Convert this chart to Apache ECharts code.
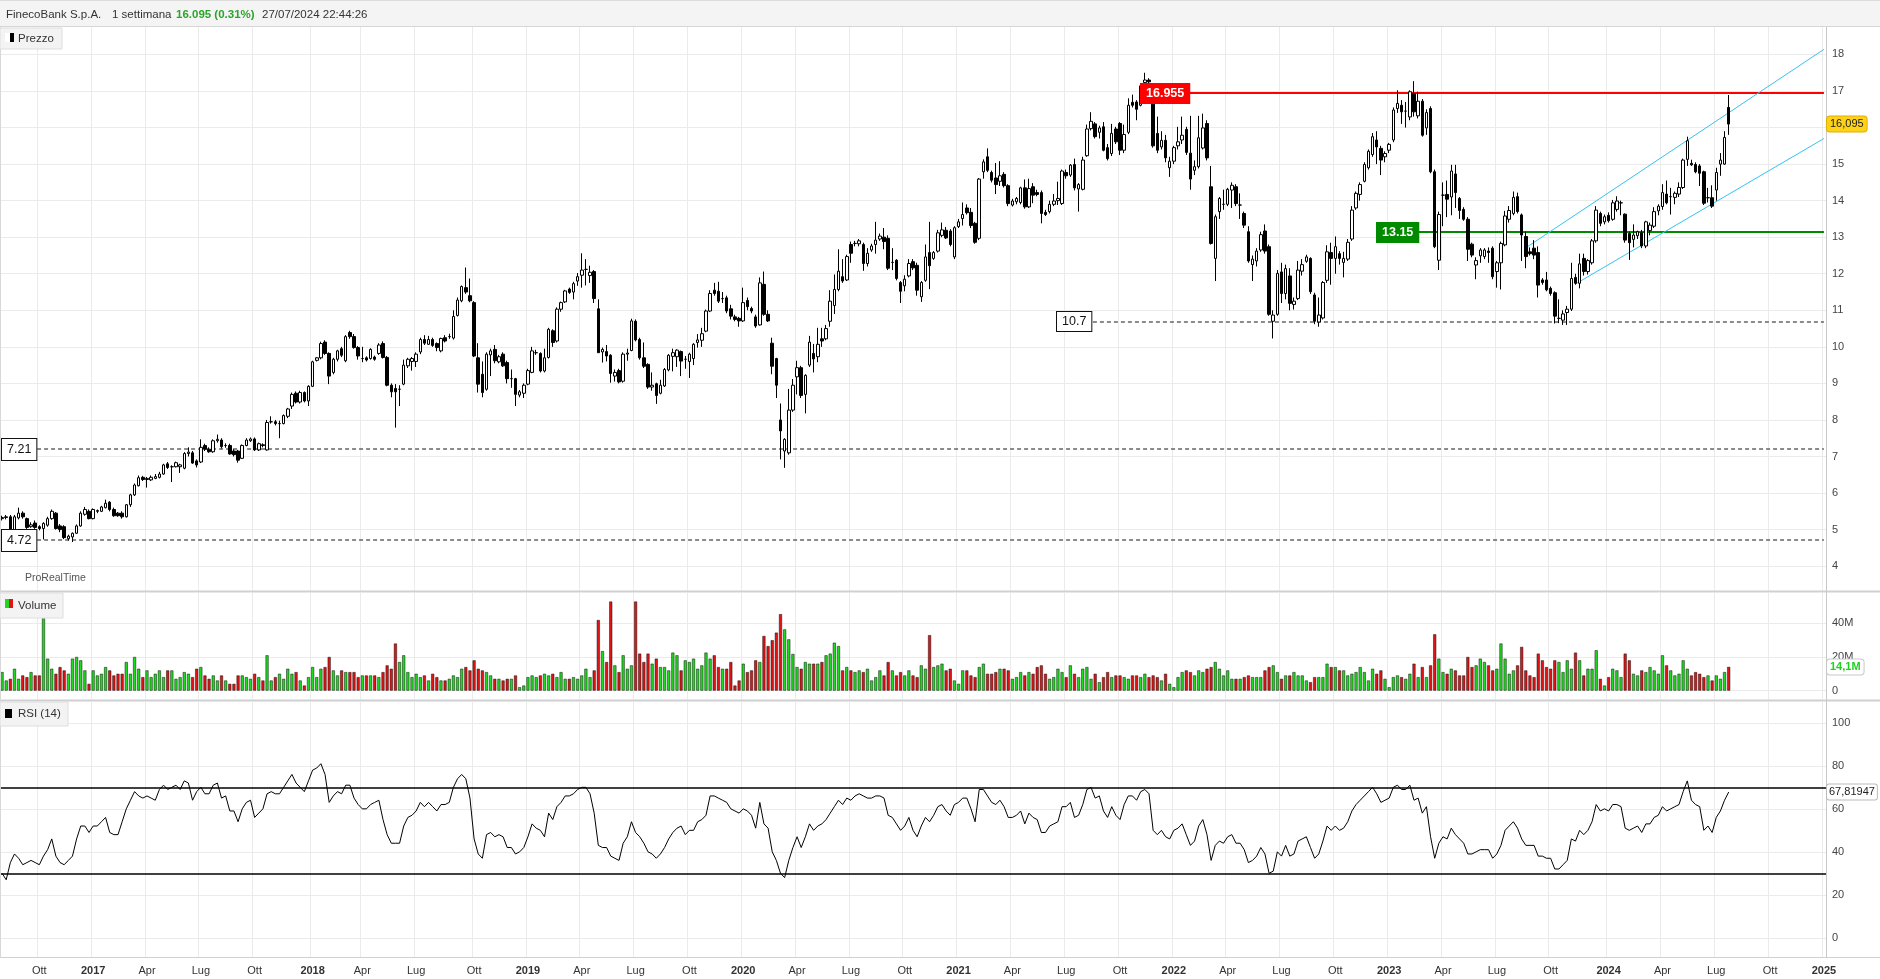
<!DOCTYPE html>
<html><head><meta charset="utf-8">
<script src="https://cdn.jsdelivr.net/npm/echarts@6/dist/echarts.min.js"></script>
<style>html,body{margin:0;padding:0;background:#fff;}#c{width:1880px;height:979px;}</style>
</head><body><div id="c"></div>
<script>
// ---------- DATA (weekly, first week ending 2016-07-29) ----------
const firstWeek = '2016-07-29';
const opens = [
5.30,5.33,5.35,5.00,5.32,5.45,5.30,5.08,5.18,5.08,5.03,5.12,5.30,5.45,5.10,5.08,4.75,4.80,4.90,5.10,
5.42,5.50,5.30,5.50,5.50,5.60,5.75,5.55,5.45,5.45,5.35,5.68,5.95,6.20,6.43,6.37,6.36,6.40,6.43,6.52,
6.80,6.72,6.72,6.72,6.68,7.08,7.10,6.88,6.85,7.30,7.20,7.13,7.43,7.45,7.30,7.30,7.15,7.15,6.95,7.30,
7.43,7.48,7.18,7.32,7.18,7.95,7.95,7.90,7.90,8.10,
8.38,8.73,8.49,8.75,8.52,8.92,9.63,9.70,10.13,9.82,9.30,9.66,9.95,9.62,10.39,10.28,9.98,9.68,9.70,9.68,
9.72,9.82,10.09,9.71,8.95,8.86,8.84,8.98,9.48,9.60,9.60,9.86,10.20,10.07,10.20,10.09,9.89,10.25,10.28,10.24,
10.86,11.26,11.62,11.40,11.21,9.70,9.25,8.84,9.78,9.93,9.59,9.80,9.57,9.13,9.13,8.68,8.73,8.98,9.30,9.84,
9.82,9.34,9.71,10.44,10.16,11.03,11.23,11.58,11.50,11.80,11.96,12.12,11.95,
12.06,11.04,9.86,9.87,9.77,9.20,9.35,9.06,9.80,9.90,10.70,10.20,9.70,9.52,8.90,8.99,8.73,8.93,9.37,9.74,
9.73,9.87,9.66,9.60,9.68,10.12,10.18,10.43,10.98,11.55,11.52,11.32,11.34,11.04,10.82,10.78,10.71,11.27,11.05,10.82,
10.60,11.71,10.89,10.10,9.68,8.00,7.15,7.10,8.27,9.18,9.43,8.70,9.50,9.82,9.73,10.22,10.22,10.70,11.13,11.57,
11.92,11.83,12.80,12.83,12.82,12.80,12.28,12.65,
12.80,12.95,13.00,12.97,12.31,12.37,11.76,11.67,11.94,12.33,12.23,11.37,11.82,12.58,12.42,12.62,13.05,13.19,13.17,12.46,
13.29,13.51,13.80,13.68,13.38,12.97,14.79,15.20,14.77,14.62,14.53,14.72,14.41,13.88,13.97,13.95,14.35,13.83,14.38,14.22,
14.22,13.68,13.70,13.90,14.00,13.92,14.77,14.70,14.99,14.32,14.31,15.23,15.97,16.10,15.87,16.02,15.45,15.29,15.96,16.11,
15.38,15.87,16.69,16.70,16.61,17.23,17.30,16.66,15.84,15.47,15.65,14.90,
15.08,15.50,15.66,15.95,15.30,14.83,14.93,15.44,16.11,14.38,12.42,13.70,13.90,13.90,14.29,14.38,13.88,13.65,13.15,12.25,
12.35,12.65,13.17,12.74,10.70,10.89,12.05,11.46,11.94,11.16,11.32,12.07,12.34,12.42,11.42,10.68,10.79,11.82,12.58,12.42,
12.55,12.31,12.40,12.95,13.80,14.17,14.53,14.90,15.26,15.66,15.43,15.20,15.38,15.66,16.52,16.61,16.45,16.29,16.93,16.32,
16.72,15.99,16.52,14.79,12.37,14.15,14.17,14.10,14.73,14.06,
13.76,13.49,12.81,12.24,12.49,12.47,12.62,12.70,12.06,12.30,12.79,13.49,13.65,14.11,13.61,13.02,12.60,12.70,12.58,11.83,
11.83,11.60,11.48,10.78,10.73,10.94,11.03,11.90,11.74,12.42,12.06,12.30,12.90,13.65,13.42,13.60,13.49,13.76,13.94,13.63,
13.10,12.94,13.04,13.12,12.76,13.18,13.30,13.72,13.84,14.18,14.11,14.09,14.18,14.36,15.13,15.02,14.99,14.95,14.79,14.08,
14.08,14.29,15.00,15.00,16.55];
const closes = [
5.33,5.35,4.99,5.35,5.45,5.35,5.06,5.13,5.06,5.03,5.17,5.30,5.50,5.03,5.00,4.78,4.82,4.90,5.10,5.45,
5.55,5.30,5.55,5.52,5.62,5.72,5.55,5.38,5.38,5.35,5.68,5.95,6.22,6.42,6.37,6.40,6.43,6.45,6.52,6.77,
6.70,6.72,6.83,6.77,7.08,7.12,6.82,6.77,7.25,7.20,7.13,7.43,7.47,7.27,7.30,7.07,7.05,6.90,7.30,7.45,
7.48,7.18,7.35,7.30,7.93,7.95,7.90,7.90,8.12,8.30,
8.70,8.49,8.75,8.52,8.92,9.59,9.70,10.09,9.82,9.20,9.66,9.89,9.77,10.28,10.28,9.98,9.75,9.68,9.64,9.93,
9.66,10.05,9.71,8.95,8.77,8.77,8.84,9.50,9.66,9.68,9.80,10.20,10.10,10.20,10.04,9.98,10.23,10.16,10.28,10.83,
11.28,11.65,11.50,11.26,9.75,8.98,8.75,9.80,9.89,9.62,9.73,9.48,9.13,9.13,8.70,8.77,8.95,9.35,9.89,9.84,
9.34,9.70,10.48,10.12,11.03,11.21,11.53,11.49,11.73,11.92,12.10,12.12,12.04,
11.32,9.84,9.93,9.75,9.27,9.30,9.04,9.80,9.83,10.71,10.19,9.70,9.47,8.90,8.95,8.67,8.95,9.38,9.77,9.84,
9.91,9.61,9.66,9.80,10.07,10.19,10.36,10.98,11.46,11.46,11.25,11.32,10.98,10.84,10.75,10.71,11.21,11.10,10.98,10.57,
11.75,10.89,10.71,9.47,8.95,7.70,7.47,8.27,8.95,9.43,8.67,9.22,10.13,9.67,10.07,10.16,10.50,11.25,11.57,12.07,
11.80,12.47,12.56,12.83,12.90,12.28,12.56,12.76,
12.92,13.03,12.88,12.15,12.31,11.87,11.52,11.85,12.28,12.16,11.55,11.76,12.46,12.22,12.58,13.12,13.20,12.98,12.80,13.26,
13.42,13.62,13.67,13.32,12.86,14.59,15.06,14.83,14.56,14.44,14.68,14.41,13.92,13.99,14.06,14.35,13.83,14.33,14.15,14.17,
13.65,13.62,13.90,13.99,14.06,14.81,14.68,14.97,14.35,14.44,15.11,15.96,16.17,15.75,15.99,15.38,15.15,15.84,15.61,15.38,
15.81,16.61,16.61,16.50,17.14,17.30,17.25,15.50,15.38,15.65,15.17,15.08,
15.45,15.61,15.79,15.32,14.59,14.93,15.72,15.99,15.17,12.83,13.56,14.06,13.90,14.31,14.42,13.92,13.88,13.33,12.35,12.40,
12.62,13.07,12.62,10.89,10.87,12.01,11.46,12.14,11.19,11.25,12.10,12.25,12.46,11.51,10.70,10.87,11.76,12.60,12.42,12.74,
12.42,12.42,12.86,13.74,14.20,14.44,14.99,15.35,15.75,15.47,15.11,15.29,15.54,16.48,16.66,16.43,16.45,16.98,16.43,16.72,
15.79,16.41,14.79,12.74,13.62,14.15,14.04,14.81,14.22,13.73,
13.49,12.67,12.51,12.36,12.65,12.65,12.58,11.92,12.30,12.83,13.58,13.73,14.09,13.70,13.06,12.47,12.55,12.51,11.69,11.76,
11.56,11.46,10.84,10.78,10.90,11.03,11.87,11.74,12.27,12.06,12.36,12.90,13.74,13.38,13.56,13.45,13.94,13.99,13.94,12.92,
12.85,13.06,13.15,12.76,13.42,13.33,13.70,13.85,14.22,13.94,14.11,14.20,14.36,15.11,15.64,14.98,14.79,14.75,13.93,14.08,
13.85,14.77,15.11,15.73,16.095];
const lows = [
5.25,5.28,4.95,4.98,5.28,5.30,5.02,5.05,5.02,4.98,4.73,5.08,5.27,5.00,4.93,4.74,4.70,4.66,4.88,5.08,
5.38,5.28,5.28,5.45,5.48,5.58,5.50,5.35,5.35,5.30,5.33,5.62,5.92,6.18,6.33,6.15,6.33,6.38,6.40,6.50,
6.66,6.30,6.70,6.55,6.65,7.00,6.80,6.70,6.82,7.15,7.10,7.10,7.38,7.22,7.24,7.05,7.00,6.83,6.93,7.28,
7.40,7.15,7.15,7.25,7.16,7.90,7.85,7.50,7.88,8.05,
8.30,8.45,8.45,8.48,8.38,8.90,9.60,9.66,9.78,8.98,9.25,9.60,9.72,9.58,10.22,9.95,9.65,9.58,9.60,9.65,
9.62,9.78,9.68,8.92,8.62,7.79,8.38,8.95,9.42,9.35,9.45,9.80,10.05,10.05,10.00,9.88,9.85,10.12,10.22,10.20,
10.83,11.22,11.45,11.22,9.72,8.75,8.62,8.80,9.20,9.55,9.55,9.45,9.00,8.88,8.38,8.62,8.60,8.95,9.28,9.78,
9.30,9.30,9.68,10.00,10.12,10.96,11.20,11.45,11.30,11.67,11.62,11.68,11.75,
11.20,9.84,9.57,9.60,9.02,9.05,9.00,9.02,9.62,9.88,10.15,9.65,9.42,8.85,8.80,8.44,8.70,8.90,9.33,9.33,
9.45,9.20,9.40,9.15,9.50,9.98,10.00,10.40,10.95,11.40,11.20,11.20,10.92,10.75,10.70,10.55,10.68,11.00,10.92,10.52,
10.58,10.85,10.68,9.25,8.60,6.92,6.69,7.05,8.22,8.70,8.60,8.18,9.45,9.30,9.58,10.00,10.18,10.55,10.90,11.52,
11.75,11.80,12.30,12.75,12.75,12.08,12.20,12.60,
12.55,12.90,12.67,12.10,12.10,11.82,11.20,11.52,11.90,12.10,11.40,11.23,11.78,11.58,12.38,12.58,13.00,12.95,12.75,12.40,
13.25,13.32,13.62,13.25,12.82,12.92,14.60,14.78,14.50,14.18,14.40,14.36,13.85,13.84,13.90,13.90,13.78,13.80,13.93,14.12,
13.38,13.58,13.65,13.85,13.88,13.88,14.60,14.65,14.28,13.70,14.28,15.20,15.92,15.70,15.70,15.35,15.10,15.22,15.55,15.25,
15.30,15.82,16.55,16.20,16.58,17.15,17.05,15.45,15.30,15.40,15.05,14.65,
15.00,15.40,15.55,15.25,14.30,14.70,14.88,15.40,15.10,12.80,11.80,13.50,13.75,13.85,13.80,13.85,13.50,13.25,12.30,11.80,
12.20,12.60,12.55,10.85,10.23,10.85,11.20,11.30,11.00,11.02,11.28,11.95,12.30,11.45,10.62,10.55,10.75,11.75,11.70,12.00,
12.25,11.90,12.35,12.90,13.75,14.00,14.50,14.85,15.20,15.00,14.70,15.05,15.30,15.60,16.40,16.10,16.00,16.20,16.30,16.25,
15.75,15.80,14.75,12.70,12.10,13.30,13.55,13.60,13.80,13.50,
13.45,12.35,12.45,11.85,12.30,12.40,12.30,11.85,11.62,11.57,12.75,13.40,13.60,13.65,12.35,12.15,12.50,12.40,11.35,11.70,
11.52,11.40,10.64,10.65,10.60,10.60,10.98,11.70,11.60,11.95,11.98,12.25,12.85,13.30,13.35,13.40,13.45,13.70,13.60,12.85,
12.38,12.72,12.95,12.70,12.70,13.05,13.25,13.60,13.75,13.90,13.62,13.90,14.10,14.32,14.95,14.95,14.75,14.40,13.88,13.95,
13.80,14.00,14.68,14.98,15.80];
const highs = [
5.38,5.40,5.40,5.40,5.60,5.50,5.33,5.20,5.25,5.12,5.20,5.35,5.55,5.48,5.15,5.12,4.86,4.92,5.14,5.50,
5.62,5.55,5.58,5.55,5.65,5.82,5.78,5.60,5.48,5.50,5.70,5.98,6.26,6.48,6.47,6.44,6.48,6.52,6.58,6.80,
6.85,6.76,6.86,6.80,7.12,7.25,7.15,6.92,7.47,7.35,7.25,7.47,7.60,7.50,7.36,7.35,7.20,7.18,7.33,7.50,
7.52,7.52,7.38,7.36,8.00,8.10,8.00,7.98,8.15,8.33,
8.75,8.78,8.80,8.78,8.95,9.62,9.72,10.14,10.18,9.85,9.70,9.92,10.00,10.32,10.44,10.35,10.02,10.00,9.74,9.96,
9.76,10.10,10.15,9.75,9.00,8.98,8.95,9.65,9.70,9.72,9.85,10.25,10.32,10.30,10.25,10.12,10.25,10.32,10.36,11.00,
11.35,11.68,12.17,11.87,11.25,10.10,9.60,9.85,9.95,10.05,9.78,9.85,9.62,9.38,9.15,8.82,9.00,9.40,10.00,9.92,
9.85,9.95,10.52,10.48,11.08,11.24,11.56,11.62,11.78,12.02,12.56,12.40,12.22,
12.10,11.30,9.98,10.05,9.80,9.38,9.40,9.85,9.95,10.77,10.75,10.25,10.12,9.55,9.30,9.02,9.10,9.42,9.80,9.95,
9.93,9.90,9.75,9.84,10.10,10.35,10.52,11.02,11.55,11.75,11.78,11.50,11.40,11.15,10.88,10.82,11.62,11.35,11.10,10.88,
11.90,12.06,11.00,10.25,9.70,8.45,7.50,8.85,9.12,9.62,9.48,9.25,10.30,10.08,10.52,10.52,10.60,11.55,11.98,12.67,
12.40,12.52,12.88,12.90,12.95,12.85,12.70,12.82,
13.42,13.10,13.25,13.05,12.70,12.40,11.80,11.96,12.40,12.40,12.30,11.80,12.80,13.42,12.62,13.20,13.40,13.28,13.22,13.30,
13.50,13.95,13.90,13.80,13.42,14.62,15.13,15.43,14.82,15.03,15.08,14.78,14.45,14.05,14.10,14.38,14.58,14.60,14.48,14.30,
14.28,13.75,14.00,14.18,14.52,14.85,14.85,15.00,15.15,14.48,15.20,16.08,16.42,16.15,16.05,16.15,15.55,16.10,16.02,16.15,
16.08,16.80,16.90,16.75,17.20,17.50,17.35,16.72,16.30,15.90,15.80,15.20,
15.50,16.02,16.30,16.02,16.32,15.10,16.32,16.38,16.20,14.95,13.62,14.10,14.30,14.35,14.50,14.45,14.20,13.70,13.30,12.50,
12.70,13.15,13.35,12.80,11.00,12.10,12.30,12.25,12.15,11.35,12.35,12.40,12.52,12.45,11.48,11.35,11.80,12.78,12.85,13.02,
12.62,12.60,12.95,13.85,14.25,14.50,15.05,15.40,15.85,15.90,15.50,15.35,15.58,16.55,17.02,16.75,16.70,17.02,17.27,16.98,
16.78,16.50,16.58,14.85,13.70,14.50,14.55,14.98,14.98,14.10,
13.82,13.55,12.85,12.45,12.70,12.70,12.72,12.75,12.35,12.88,13.72,13.85,14.25,14.22,13.65,13.15,12.72,12.92,12.75,11.88,
12.05,11.65,11.52,11.30,11.00,11.12,12.30,12.00,12.55,12.55,12.40,12.95,13.85,13.70,13.62,13.68,14.02,14.12,14.00,13.65,
13.15,13.35,13.18,13.20,13.45,13.40,13.82,13.90,14.45,14.55,14.35,14.25,14.50,15.15,15.75,15.12,15.05,15.00,14.82,14.35,
14.42,14.90,15.30,15.90,16.89];
// volume, millions of shares
const volumes = [
11,6,7,13,7,9,8,11,9,9,43,19,13,10,14,12,10,19,20,18,12,4,12,9,10,14,12,9,10,10,
17,10,20,13,8,12,8,10,12,8,12,12,7,8,11,10,8,13,14,9,7,9,6,9,6,4,4,9,9,8,
7,10,8,6,21,6,8,10,7,13,10,11,6,3,8,14,8,13,14,20,12,9,12,11,11,11,8,9,9,9,
9,8,11,15,13,28,17,21,11,8,10,8,9,6,10,8,6,6,7,9,8,13,14,12,18,13,12,11,9,7,
7,6,7,7,9,2,3,8,9,8,9,10,9,10,8,11,7,7,8,7,9,13,8,12,42,23.5,17,53,15,11,
21,13,15,53,22,17,22,16,19,14,14,12,22.6,21,12,18,17,19,13,15,22.6,19,21,14,13,13,17,3,6,16,
11,12,18,17,32.5,26.5,30,34.5,45.5,36.4,30.5,21.8,14,13,17,16,16,16,17,21,22,28.5,26.5,12,14,12,11,12,11,13,
6,8,12,9,17,12,9,11,9,12,9,8,15,13,33,14,15,16,12,13,6,4,12,12,9,8,14,16,10,10,
11,13,13,12,7,8,11,9,11,10,14,15,10,7,8,13,11,8,15,10,8,13,14,7,10,5,8,11,8,9,
9,8,7,9,9,8,10,8,9,8,6,10,4,2,8,11,12,11,9,12,11,13,14,17,13,9,12,7,7,7,
8,9,8,8,8,12,14,15,11,7,9,9,11,9,9,6,5,8,8,8,16,14,14,12,12,9,10,11,14,11,
6,13,10,12,7,2,8,9,8,7,10,16,8,14,8,15,33.5,19,11,10,13,12,9,9,20,14,15,19,17,15,
12,13,28,19,10,12,15,26,12,9,8,22,18,14,13,18,17,11,18,13,22.6,18,9,13,13,24,7,3,8,13,
12,8,22,18,10,9,12,11,14,12,10,21,15,12,9,10,18,13,9,11,10,8,9,6,9,7,11,14.1];
const rsi = [
30,27,35,39,37,34,35,36,35,34,38,41,46,38,35,34,36,38,46,52,52,49,52,52,54,56,49,48,48,54,
60,64,68,66,65,66,65,64,69,71,69,70,71,69,73,72,64,68,70,67,67,71,72,65,66,59,59,54,60,63,
64,56,58,60,67,68,67,67,70,73,76,72,70,68,73,78,79,81,76,63,66,68,67,71,71,65,62,60,60,62,
63,64,55,48,44,44,44,52,56,57,59,63,61,63,61,59,62,62,63,70,74,76,74,65,46,39,37,48,49,47,
48,47,42,42,39,40,42,47,53,51,50,47,58,55,61,63,66,66,67,69,70,70,67,58,43,42,42,38,37,36,
44,47,54,49,47,44,40,39,37,39,42,46,49,51,52,48,50,50,54,55,57,66,66,65,64,63,60,59,58,60,
59,57,51,63,53,51,40,36,30,28,36,42,47,42,47,53,50,52,53,55,58,61,64,62,65,64,66,67,66,65,
65,66,66,65,57,56,53,50,52,56,50,47,52,56,54,57,61,62,59,57,62,63,65,65,60,54,69,69,66,63,
62,64,61,56,56,57,59,53,58,56,55,49,49,52,53,54,61,61,63,56,57,62,69,70,65,66,59,56,61,57,
55,62,66,66,64,68,69,67,50,48,50,47,46,50,51,53,48,43,45,52,55,48,36,43,45,44,47,48,44,44,
41,35,36,38,42,39,30,31,40,38,43,38,39,45,46,47,42,37,39,45,52,50,52,50,51,54,59,62,64,66,
68,70,67,63,64,65,70,71,69,69,71,64,65,58,61,47,37,44,47,46,51,48,46,44,39,39,40,41,41,41,
37,39,43,50,52,54,51,46,43,43,43,38,38,37,37,32,32,34,36,46,45,50,48,50,54,62,59,60,59,62,
62,61,51,50,51,52,49,53,53,56,57,61,59,60,61,62,68,73,64,62,61,50,52,49,56,59,64,67.81947];
// horizontal levels drawn on the price panel (price, first week index)
const levelPrices = [16.955, 13.15, 10.7, 7.21, 4.72];
const levelStartWeek = [275, 332, 255, 0, 0];
// channel lines: [startWeek, startPrice, endWeek, endPrice]
const channelLines = [[368, 12.71, 440, 18.14], [380, 11.72, 440, 15.70]];
const priceTicks = [4,5,6,7,8,9,10,11,12,13,14,15,16,17,18];
const volumeTicks = [0,20,40];
const rsiTicks = [0,20,40,60,80,100];
const rsiBands = [70, 30];
const headerTexts = ['FinecoBank S.p.A.', '1 settimana', '16.095 (0.31%)', '27/07/2024 22:44:26'];

// ---------- BUILD ----------
const FONT = '"Liberation Sans", Arial, Helvetica, sans-serif';
const DAY = 864e5;
const t0 = Date.parse(firstWeek + 'T00:00:00Z');
const EXTRA = 23;
const cats = [];
for (let k = 0; k < closes.length + EXTRA; k++) cats.push(new Date(t0 + k * 7 * DAY).toISOString().slice(0, 10));
const LASTCAT = cats.length - 1;

const qNames = ['', 'Apr', 'Lug', 'Ott'];
const tickLabel = {};
for (let y = 2016; y <= 2025; y++) [0, 3, 6, 9].forEach((m, qi) => {
  const t = Date.UTC(y, m, 1);
  for (let k = 0; k < cats.length; k++) {
    const tk = t0 + k * 7 * DAY;
    if (tk + 2 * DAY >= t) {
      if (tk - t < 7 * DAY) tickLabel[k] = qi === 0 ? '{y|' + y + '}' : qNames[qi];
      break;
    }
  }
});
const isTick = (i) => tickLabel[i] !== undefined;

const GRIDLINE = '#ebebeb';
function xAxisCfg(gi, showLabel) {
  return {
    type: 'category', gridIndex: gi, data: cats, boundaryGap: true,
    axisLine: { show: false }, axisTick: { show: false },
    axisLabel: {
      show: showLabel, interval: isTick, formatter: (v, i) => tickLabel[i] || '',
      color: '#333', fontSize: 11, fontFamily: FONT, margin: 8,
      rich: { y: { fontWeight: 'bold', fontSize: 11, color: '#333', fontFamily: FONT } }
    },
    splitLine: { show: true, interval: isTick, lineStyle: { color: GRIDLINE, width: 1 } }
  };
}
function yAxisCfg(gi, min, max, ticks, fmt) {
  return {
    type: 'value', gridIndex: gi, position: 'right', min: min, max: max,
    axisLine: { show: false }, axisTick: { show: false, customValues: ticks },
    axisLabel: { customValues: ticks, color: '#444', fontSize: 11, fontFamily: FONT, margin: 6, formatter: fmt },
    splitLine: { show: true, lineStyle: { color: GRIDLINE, width: 1 } }
  };
}

const ohlc = opens.map((o, k) => [o, closes[k], lows[k], highs[k]]);
const volData = volumes.map((v, k) => ({ value: v, itemStyle: { color: closes[k] >= opens[k] ? '#1ed91e' : '#e01414' } }));

const levelStyles = [
  { color: '#ff0000', width: 2, type: 'solid' },
  { color: '#008a00', width: 2, type: 'solid' },
  { color: '#666', width: 1.5, type: [4, 3] },
  { color: '#666', width: 1.5, type: [4, 3] },
  { color: '#666', width: 1.5, type: [4, 3] }
];
const markData = levelPrices.map((p, k) => [
  { coord: [levelStartWeek[k], p], lineStyle: levelStyles[k] },
  { coord: [LASTCAT, p] }
]);
channelLines.forEach(c => markData.push([
  { coord: [c[0], c[1]], lineStyle: { color: '#33c3f5', width: 1, type: 'solid' } },
  { coord: [c[2], c[3]] }
]));

const chart = echarts.init(document.getElementById('c'), null, { renderer: 'canvas', width: 1880, height: 979 });
chart.setOption({
  animation: false,
  backgroundColor: '#ffffff',
  textStyle: { fontFamily: FONT },
  grid: [
    { left: 0, right: 54, top: 27, height: 564 },
    { left: 0, right: 54, top: 593, height: 107 },
    { left: 0, right: 54, top: 702, height: 255 }
  ],
  xAxis: [xAxisCfg(0, false), xAxisCfg(1, false), xAxisCfg(2, true)],
  yAxis: [
    yAxisCfg(0, 3.32, 18.751, priceTicks),
    yAxisCfg(1, -5.6, 58.1, volumeTicks, v => v === 0 ? '0' : v + 'M'),
    yAxisCfg(2, -8.93, 109.7, rsiTicks)
  ],
  series: [
    {
      type: 'candlestick', xAxisIndex: 0, yAxisIndex: 0, data: ohlc, barWidth: 3,
      itemStyle: { color: '#ffffff', color0: '#000000', borderColor: '#000000', borderColor0: '#000000', borderWidth: 1 },
      markLine: { symbol: ['none', 'none'], silent: true, label: { show: false }, data: markData, z: 1 }
    },
    {
      type: 'bar', xAxisIndex: 1, yAxisIndex: 1, data: volData, barWidth: 3,
      itemStyle: { borderColor: '#111', borderWidth: 0.5 }
    },
    {
      type: 'line', xAxisIndex: 2, yAxisIndex: 2, data: rsi, symbol: 'none',
      lineStyle: { color: '#000', width: 1 },
      markLine: {
        symbol: ['none', 'none'], silent: true, label: { show: false },
        lineStyle: { color: '#000', width: 1.5, type: 'solid' },
        data: rsiBands.map(v => ({ yAxis: v }))
      }
    }
  ]
});

// ---------- OVERLAYS (positions through the chart's own scales) ----------
const toPx = (gi, x, y) => chart.convertToPixel({ gridIndex: gi }, [x, y]);
const G = [];
// header
G.push({ type: 'rect', z: 100, shape: { x: 0, y: 0, width: 1880, height: 26 }, style: { fill: '#f4f4f4' } });
G.push({ type: 'line', z: 100, shape: { x1: 0, y1: 26.5, x2: 1880, y2: 26.5 }, style: { stroke: '#d6d6d6', lineWidth: 1 } });
G.push({ type: 'line', z: 100, shape: { x1: 0, y1: 0.5, x2: 1880, y2: 0.5 }, style: { stroke: '#dcdcdc', lineWidth: 1 } });
const hx = [6, 112, 176, 262];
headerTexts.forEach((t, k) => G.push({ type: 'text', z: 101, x: hx[k], y: 15, style: {
  text: t, fill: k === 2 ? '#2aa52a' : '#333', fontSize: 11.5, fontWeight: k === 2 ? 'bold' : 'normal',
  fontFamily: FONT, verticalAlign: 'middle', align: 'left' } }));
// panel separators and right axis line
[[591.5, 2, '#d0d0d0'], [700.5, 2, '#d0d0d0'], [957.5, 1, '#d0d0d0']].forEach(s =>
  G.push({ type: 'line', z: 100, shape: { x1: 0, y1: s[0], x2: 1880, y2: s[0] }, style: { stroke: s[2], lineWidth: s[1] } }));
G.push({ type: 'line', z: 100, shape: { x1: 1826.5, y1: 27, x2: 1826.5, y2: 958 }, style: { stroke: '#c8c8c8', lineWidth: 1 } });
G.push({ type: 'line', z: 100, shape: { x1: 0.5, y1: 27, x2: 0.5, y2: 958 }, style: { stroke: '#d8d8d8', lineWidth: 1 } });
// panel legend boxes
function legendBox(y, w, h, title, icons) {
  G.push({ type: 'rect', z: 102, shape: { x: 0, y: y, width: w, height: h }, style: { fill: '#f3f3f3', stroke: '#dedede', lineWidth: 1 } });
  icons.forEach(ic => G.push({ type: 'rect', z: 103, shape: { x: ic[0], y: y + ic[1], width: ic[2], height: ic[3] }, style: { fill: ic[4] } }));
  G.push({ type: 'text', z: 103, x: 18, y: y + h / 2, style: { text: title, fill: '#333', fontSize: 11.5, fontFamily: FONT, verticalAlign: 'middle' } });
}
legendBox(28, 62, 21, 'Prezzo', [[5, 5, 5, 9, '#ffffff'], [10, 5, 4, 9, '#000000']]);
legendBox(593, 63, 25, 'Volume', [[5, 6, 4, 9, '#1ed91e'], [9, 6, 4, 9, '#e01414']]);
legendBox(702, 68, 24, 'RSI (14)', [[5, 7, 7, 9, '#000000']]);
G.push({ type: 'text', z: 101, x: 25, y: 578, style: { text: 'ProRealTime', fill: '#555', fontSize: 10.5, fontFamily: FONT, verticalAlign: 'middle' } });

// level labels
const lvlLabelStyle = [
  { fill: '#fff', backgroundColor: '#ff0000', fontWeight: 'bold', padding: [4, 6, 4, 6] },
  { fill: '#fff', backgroundColor: '#008a00', fontWeight: 'bold', padding: [4, 6, 4, 6] },
  { fill: '#111', backgroundColor: '#fff', borderColor: '#111', borderWidth: 1, padding: [3, 5, 3, 5] },
  { fill: '#111', backgroundColor: '#fff', borderColor: '#111', borderWidth: 1, padding: [4, 5, 4, 5] },
  { fill: '#111', backgroundColor: '#fff', borderColor: '#111', borderWidth: 1, padding: [4, 5, 4, 5] }
];
levelPrices.forEach((p, k) => {
  const pt = toPx(0, levelStartWeek[k], p);
  const x = levelStartWeek[k] === 0 ? 2 : Math.round(pt[0] - 1);
  G.push({ type: 'text', z: 104, x: x, y: Math.round(pt[1]) + 0.5, style: Object.assign({
    text: String(p), fontSize: 12.5, fontFamily: FONT, verticalAlign: 'middle', align: 'left' }, lvlLabelStyle[k]) });
});
// right-axis value badges
const fmtComma = (v) => String(v).replace('.', ',');
const lastK = closes.length - 1;
const pY = toPx(0, 0, closes[lastK])[1];
G.push({ type: 'text', z: 104, x: 1827, y: pY, style: { text: fmtComma(closes[lastK]), fill: '#222', fontSize: 11, fontFamily: FONT,
  backgroundColor: '#ffd21a', borderColor: '#e2ad00', borderWidth: 1, borderRadius: 3, padding: [2, 3, 2, 3], verticalAlign: 'middle' } });
const vY = toPx(1, 0, volumes[lastK])[1];
G.push({ type: 'text', z: 104, x: 1827, y: vY, style: { text: fmtComma(volumes[lastK]) + 'M', fill: '#22d022', fontSize: 11, fontWeight: 'bold', fontFamily: FONT,
  backgroundColor: '#fff', borderColor: '#c8c8c8', borderWidth: 1, borderRadius: 3, padding: [2, 3, 2, 3], verticalAlign: 'middle' } });
const rY = toPx(2, 0, rsi[lastK])[1];
G.push({ type: 'text', z: 104, x: 1827, y: rY, style: { text: fmtComma(rsi[lastK]), fill: '#222', fontSize: 11, fontFamily: FONT,
  backgroundColor: '#fff', borderColor: '#bbb', borderWidth: 1, borderRadius: 2, padding: [2, 2, 2, 2], verticalAlign: 'middle' } });

chart.setOption({ graphic: G });
</script>
</body></html>
